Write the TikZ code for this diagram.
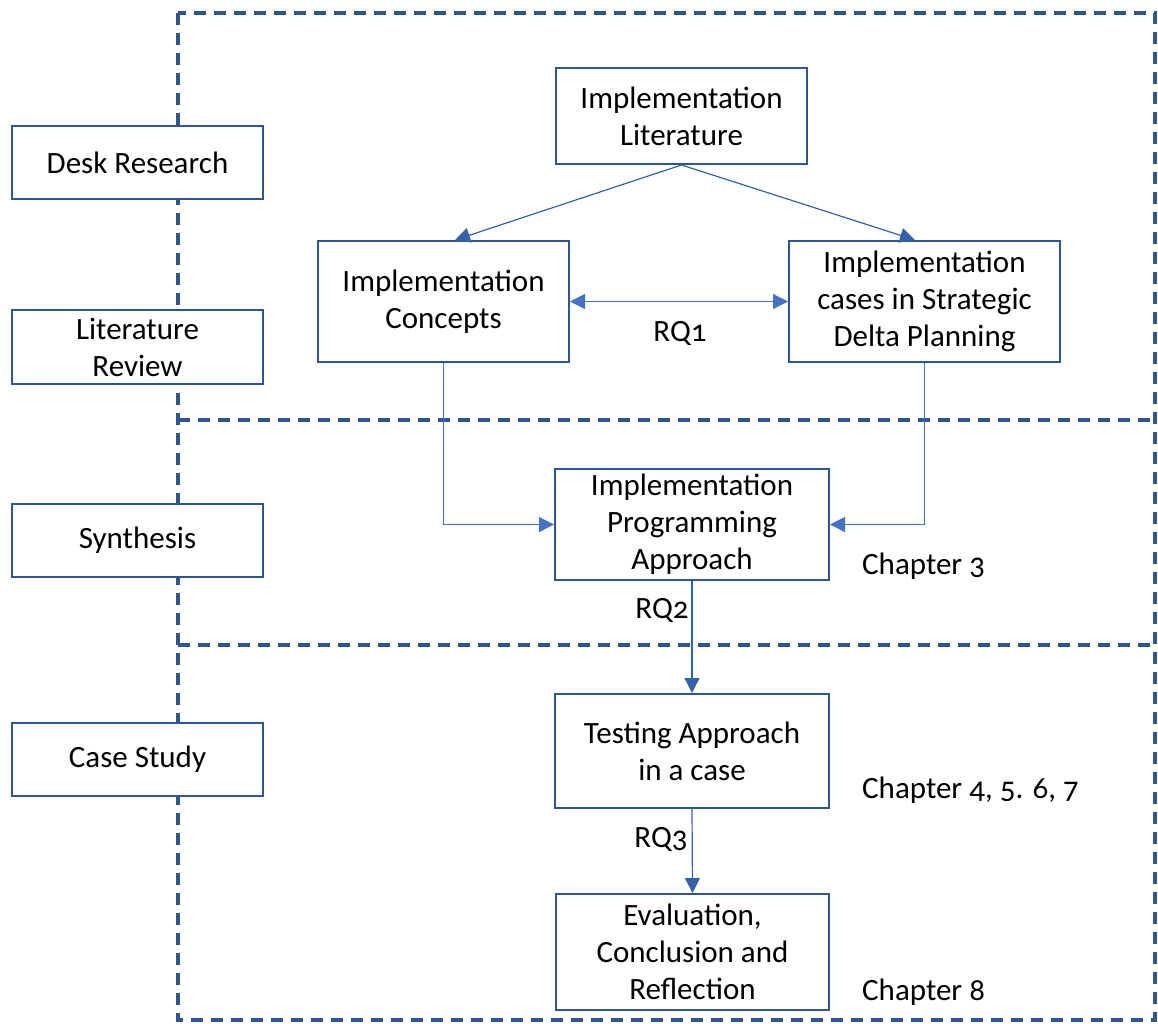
\documentclass[tikz,border=0pt]{standalone}
\usepackage{fontspec}
\setmainfont{Carlito}[Numbers=OldStyle]
\usetikzlibrary{arrows.meta,calc}
\definecolor{frameblue}{HTML}{2F5597}
\definecolor{linkblue}{HTML}{4472C4}
\definecolor{flowblue}{HTML}{3560AA}
\begin{document}
\begin{tikzpicture}[x=1pt,y=-1pt,
  font=\fontsize{31}{37}\selectfont,
  phase/.style={draw=frameblue,line width=2pt,fill=white,inner sep=0pt,align=center},
  stepbox/.style={draw=frameblue,line width=2pt,fill=white,inner sep=0pt,align=center},
  zone/.style={draw=frameblue,line width=3.2pt,dash pattern=on 12pt off 8pt},
  tip/.style={-{Triangle[length=15pt,width=15pt]}},
  link/.style={draw=linkblue,line width=1.2pt,tip},
  flow/.style={draw=flowblue,line width=1.2pt,tip},
  note/.style={inner sep=0pt}]
\useasboundingbox (0,0) rectangle (1158,1023);

% dashed zones
\draw[zone] (178,13) rectangle (1155,1020);
\draw[zone] (178,420) -- (1155,420);
\draw[zone] (178,645) -- (1155,645);

% phase labels on the left
\node[phase,minimum width=251pt,minimum height=73pt] (desk) at (137.5,162.5) {Desk Research};
\node[phase,minimum width=251pt,minimum height=74pt] (litrev) at (137.5,347) {Literature\\Review};
\node[phase,minimum width=251pt,minimum height=73pt] (synth) at (137.5,540.5) {Synthesis};
\node[phase,minimum width=251pt,minimum height=73pt] (casestudy) at (137.5,759.5) {Case Study};

% research steps
\node[stepbox,minimum width=251pt,minimum height=96pt] (implit) at (681.5,116) {Implementation\\Literature};
\node[stepbox,minimum width=251pt,minimum height=121pt] (concepts) at (443.5,301.5) {Implementation\\Concepts};
\node[stepbox,minimum width=271pt,minimum height=121pt] (cases) at (924.5,301.5) {Implementation\\cases in Strategic\\Delta Planning};
\node[stepbox,minimum width=274pt,minimum height=111pt] (prog) at (692,524.5) {Implementation\\Programming\\Approach};
\node[stepbox,minimum width=274pt,minimum height=114pt] (test) at (692,751) {Testing Approach\\in a case};
\node[stepbox,minimum width=273pt,minimum height=116pt] (eval) at (692.5,952) {Evaluation,\\Conclusion and\\Reflection};

% connectors
\draw[flow] (implit.south) -- ($(concepts.north)+(11.5,0)$);
\draw[flow] (implit.south) -- ($(cases.north)+(-9.5,0)$);
\draw[link,{Triangle[length=15pt,width=15pt]}-{Triangle[length=15pt,width=15pt]}] (concepts.east) -- (cases.east -| cases.west);
\draw[link] (concepts.south) |- (prog.west);
\draw[link] (cases.south) |- (prog.east);
\draw[flow] (prog.south) -- (test.north);
\draw[flow] (test.south) -- (eval.north);

% labels
\node[note] (rq1) at (680,333) {RQ1};
\node[note] (rq2) at (662,610) {RQ2};
\node[note] (rq3) at (661,839) {RQ3};
\node[note,anchor=west] (ch3) at (862,566) {Chapter 3};
\node[note,anchor=west] (ch4) at (862,790) {Chapter 4, 5. 6, 7};
\node[note,anchor=west] (ch8) at (862,992) {Chapter 8};
\end{tikzpicture}
\end{document}
